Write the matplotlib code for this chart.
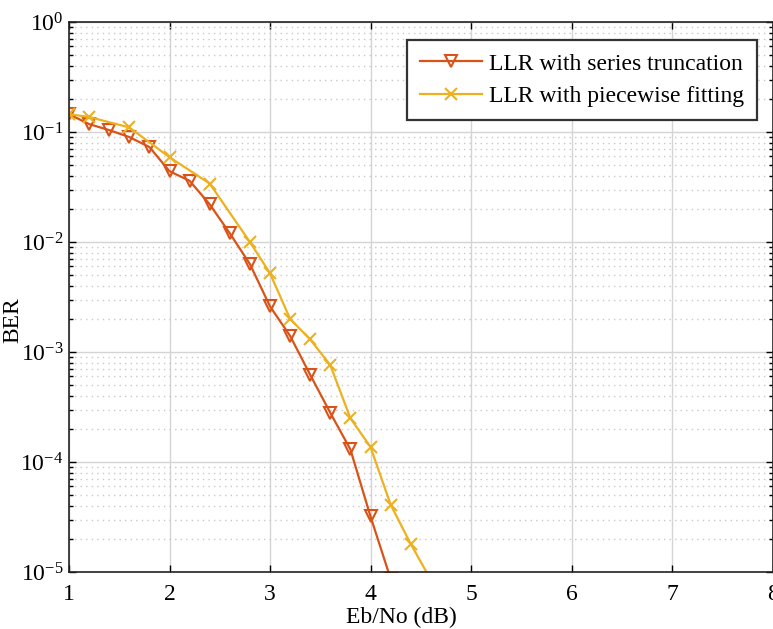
import matplotlib
matplotlib.use('Agg')
import matplotlib.pyplot as plt
from matplotlib.ticker import LogLocator, NullFormatter

plt.rcParams['font.family'] = ['Liberation Serif', 'DejaVu Serif']
plt.rcParams['mathtext.fontset'] = 'custom'
plt.rcParams['mathtext.rm'] = 'Liberation Serif'
plt.rcParams['mathtext.it'] = 'Liberation Serif:italic'
plt.rcParams['axes.unicode_minus'] = False

# Dados
snr_trunc = [1.0, 1.2, 1.4, 1.6, 1.8, 2.0, 2.2, 2.4, 2.6, 2.8, 3.0, 3.2, 3.4, 3.6, 3.8, 4.0, 4.2]
ber_trunc = [0.145, 0.118, 0.104, 0.090, 0.073, 0.044, 0.036, 0.022, 0.012, 0.0063,
             0.0026, 0.0014, 0.00062, 0.00028, 0.00013, 3.2e-5, 8.7e-6]

snr_piece = [1.0, 1.2, 1.6, 2.0, 2.4, 2.8, 3.0, 3.2, 3.4, 3.6, 3.8, 4.0, 4.2, 4.4, 4.6]
ber_piece = [0.145, 0.137, 0.11, 0.059, 0.034, 0.010, 0.0052, 0.0020, 0.0013, 0.00076,
             0.00025, 0.000137, 4.1e-5, 1.8e-5, 8.5e-6]

labels = ['LLR with series truncation', 'LLR with piecewise fitting']
xticks = [1, 2, 3, 4, 5, 6, 7, 8]

W, H = 773, 629
fig = plt.figure(figsize=(W / 100, H / 100), dpi=100)
ax = fig.add_axes([69 / W, 1 - 572 / H, (772.5 - 69) / W, 550 / H])

ax.semilogy(snr_trunc, ber_trunc, color='#D95319', lw=1.6, marker='v', ms=9,
            mfc='none', mec='#D95319', mew=1.5, label=labels[0])
ax.semilogy(snr_piece, ber_piece, color='#EDB120', lw=1.6, marker='x', ms=8,
            mew=1.5, label=labels[1])

ax.set_xlim(1, 8)
ax.set_ylim(1e-5, 1)
ax.set_xticks(xticks)
ax.yaxis.set_major_locator(LogLocator(base=10, numticks=10))
ax.yaxis.set_minor_locator(LogLocator(base=10, subs=range(2, 10), numticks=20))
ax.yaxis.set_minor_formatter(NullFormatter())

# grade estilo matlab
ax.grid(True, which='major', color='#d4d4d4', lw=1.0, ls='-')
ax.grid(True, which='minor', axis='y', color='#c8c8c8', lw=1.0, ls=(0, (1, 3)))
ax.set_axisbelow(True)

ax.tick_params(which='both', direction='in', top=True, right=True, labelsize=17)
ax.tick_params(which='major', length=5, width=1)
ax.tick_params(which='minor', length=3, width=1)
ax.tick_params(axis='x', pad=9)
ax.tick_params(axis='y', pad=4)
for s in ax.spines.values():
    s.set_linewidth(1.2)
    s.set_color('#222222')

ax.set_xlabel('Eb/No (dB)', fontsize=17)
ax.set_ylabel('BER', fontsize=17)
ax.xaxis.set_label_coords(0.473, -0.064)
ax.yaxis.set_label_coords(-0.065, 0.458)

leg = ax.legend(loc='upper right', bbox_to_anchor=(0.978, 0.967), borderaxespad=0,
                fontsize=17, fancybox=False, framealpha=1, edgecolor='#333333',
                handlelength=2.6, borderpad=0.55, labelspacing=0.45, handletextpad=0.3)
leg.get_frame().set_linewidth(1.6)

fig.savefig('out.png', dpi=100)
